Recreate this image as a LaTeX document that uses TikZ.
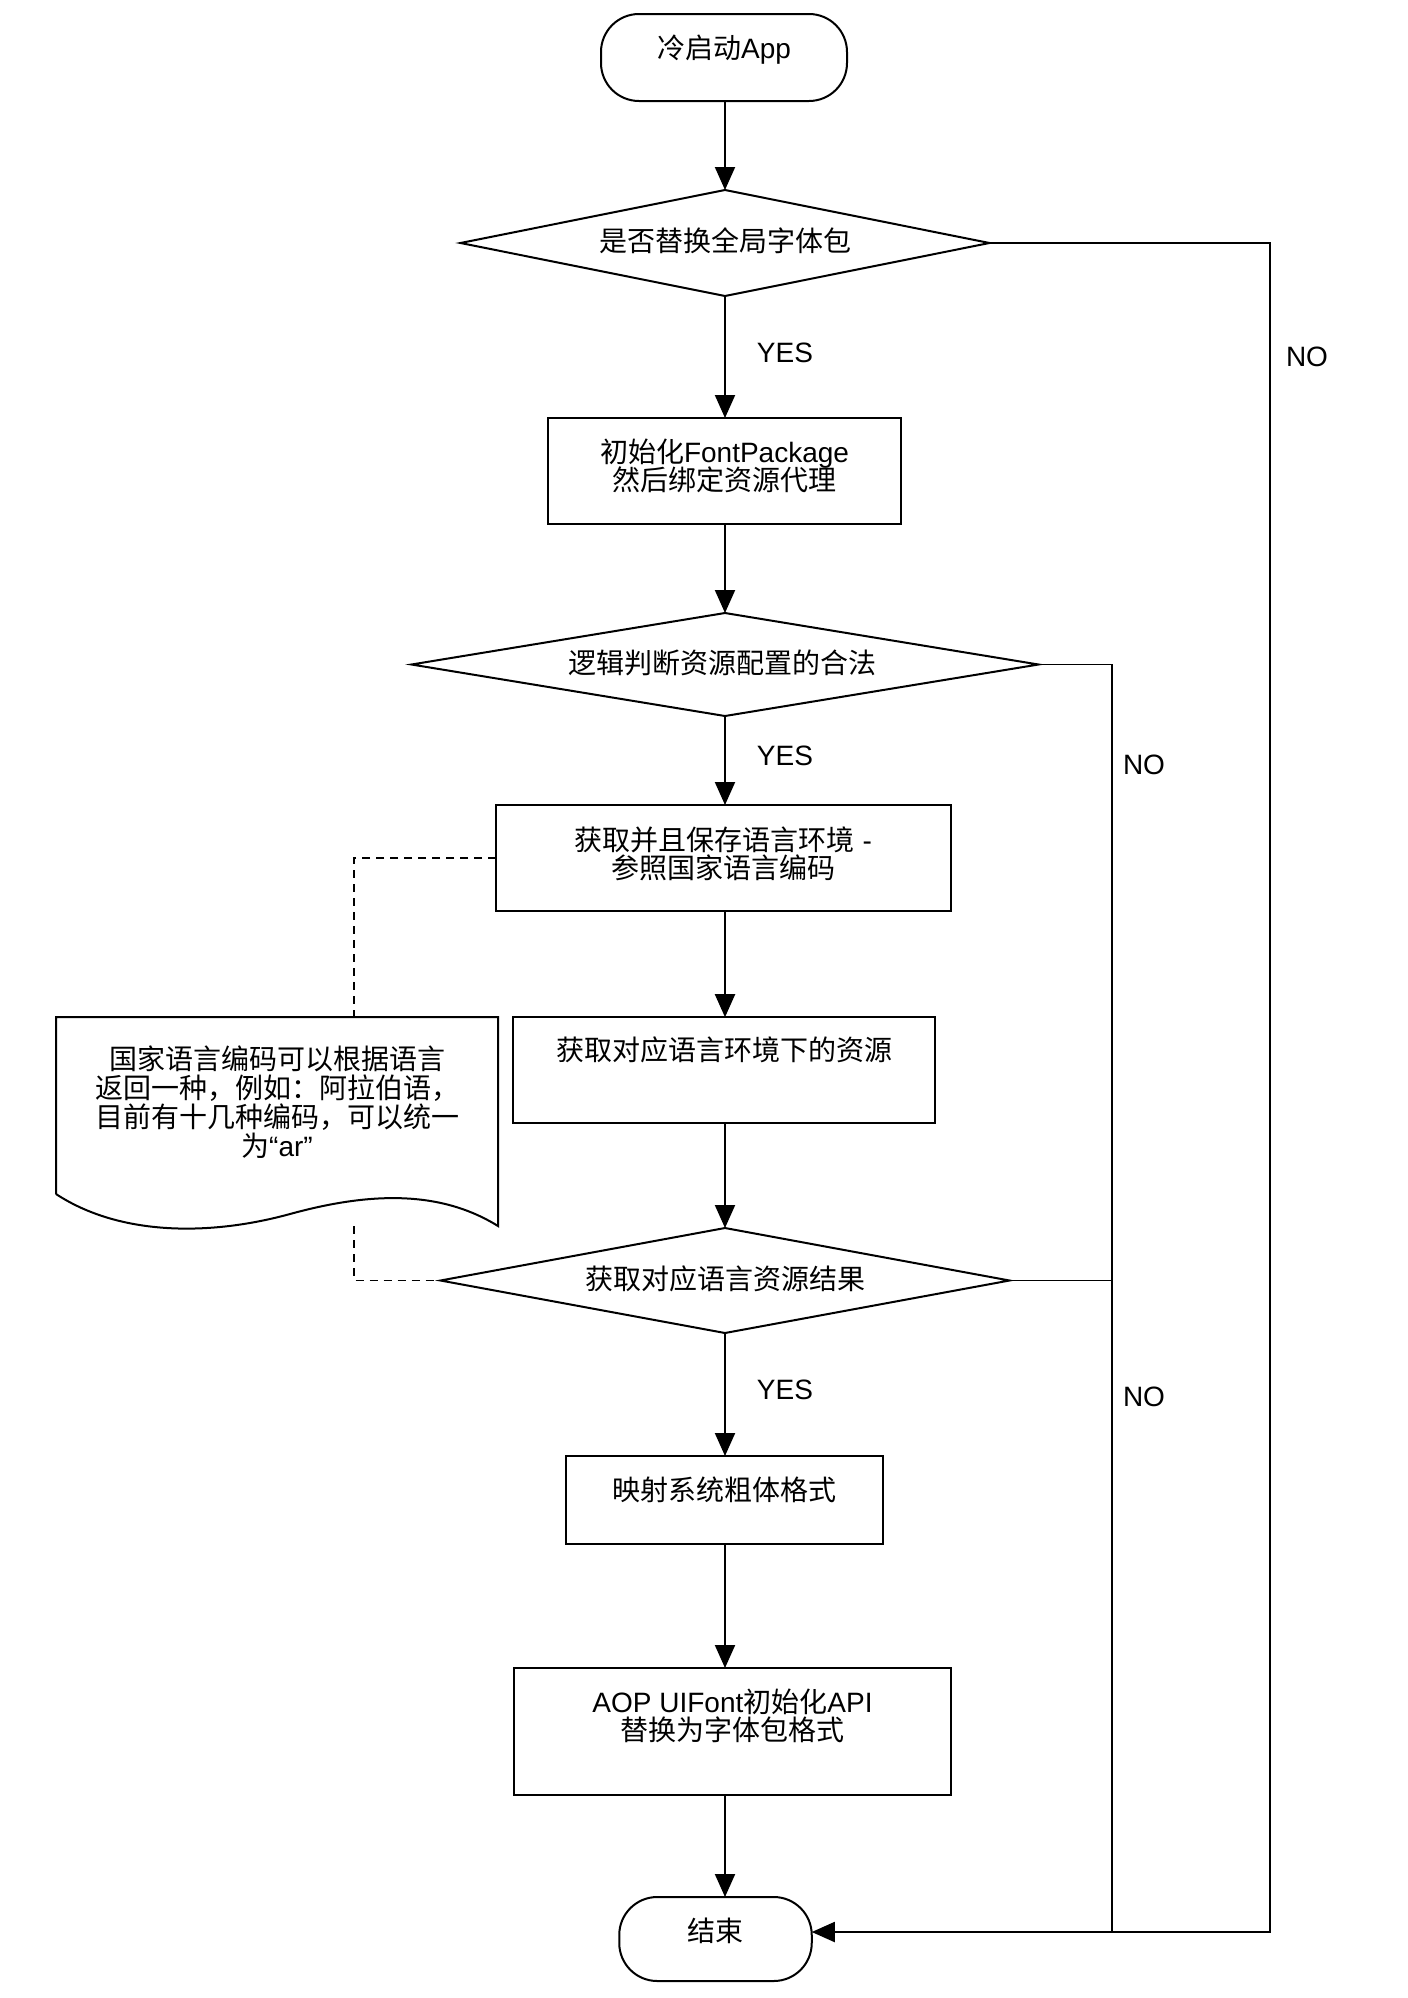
\documentclass[tikz,border=0pt]{standalone}
\usepackage{fontspec}
\setmainfont{Liberation Sans}
\newfontfamily\cjk{Noto Sans CJK SC}
\usetikzlibrary{shapes.geometric,arrows.meta}
\newcommand\zh[1]{{\cjk #1}}
\begin{document}
\lineskiplimit=-20pt
\begin{tikzpicture}[x=0.5pt,y=-0.5pt,
  line width=1pt,
  every node/.style={inner sep=0pt, outer sep=0pt},
  txt/.style={font=\fontsize{14}{14}\selectfont, align=center},
  notetxt/.style={font=\fontsize{14}{14.4}\selectfont, align=center},
  procbox/.style={draw, rectangle, line width=1pt},
  termbox/.style={draw, rectangle, rounded corners=19pt, line width=1pt},
  decbox/.style={draw, diamond, line width=1pt},
  flow/.style={line width=1pt, -{Triangle[length=11.5pt,width=10pt]}},
  nolink/.style={line width=0.8pt},
  dashlink/.style={line width=0.8pt, dash pattern=on 4pt off 3pt},
  lbl/.style={font=\fontsize{14}{14}\selectfont}
]
\useasboundingbox (0,0) rectangle (1408,1998);
\fill[white] (0,0) rectangle (1408,1998);

% column and routing coordinates
\coordinate (col) at (725,0);
\coordinate (xr) at (1270,0);
\coordinate (xm) at (1112,0);
\coordinate (xd) at (354,0);
\coordinate (ybot) at (0,1932);

% start
\node[termbox, minimum width=123pt, minimum height=43.5pt] (start) at (724,57.5) {};
\node[txt] (tstart) at (724,50) {\zh{冷启动}App};

% decision 1
\node[decbox, minimum width=264.5pt, minimum height=53pt] (d1) at (725,243) {};
\node[txt] (td1) at (725,241) {\zh{是否替换全局字体包}};
\node[lbl] (yes1) at (785,353) {YES};

% box 2
\node[procbox, minimum width=176.5pt, minimum height=53pt] (b2) at (724.5,471) {};
\node[txt] (tb2) at (724.5,466) {\zh{初始化}FontPackage\\\zh{然后绑定资源代理}};

% decision 2
\node[decbox, minimum width=313.5pt, minimum height=51.5pt] (d2) at (725,664.5) {};
\node[txt] (td2) at (722.5,662.5) {\zh{逻辑判断资源配置的合法}};
\node[lbl] (yes2) at (785,756) {YES};

% box 3
\node[procbox, minimum width=227.5pt, minimum height=53pt] (b3) at (723.5,858) {};
\node[txt] (tb3) at (723.5,854) {\zh{获取并且保存语言环境} -\\\zh{参照国家语言编码}};

% box 4
\node[procbox, minimum width=210.75pt, minimum height=52.8pt] (b4) at (724,1070) {};
\node[txt] (tb4) at (724,1050) {\zh{获取对应语言环境下的资源}};

% note (document shape)
\draw[line width=1pt] (56,1194) -- (56,1017) -- (498,1017) -- (498,1226)
  .. controls (440,1190) and (370,1192) .. (290,1214)
  .. controls (210,1236) and (120,1236) .. (56,1194);
\coordinate (notetop) at (354,1017);
\coordinate (notebot) at (354,1226);
\node[notetxt] (tnote) at (277,1102) {\zh{国家语言编码可以根据语言}\\\zh{返回一种，例如：阿拉伯语，}\\\zh{目前有十几种编码，可以统一}\\\zh{为}“ar”};

% decision 3
\node[decbox, minimum width=284.5pt, minimum height=52.5pt] (d3) at (725,1280.5) {};
\node[txt] (td3) at (725.5,1279) {\zh{获取对应语言资源结果}};
\node[lbl] (yes3) at (785,1390) {YES};

% box 5
\node[procbox, minimum width=158.5pt, minimum height=44pt] (b5) at (724.5,1500) {};
\node[txt] (tb5) at (724.5,1490) {\zh{映射系统粗体格式}};

% box 6
\node[procbox, minimum width=218.5pt, minimum height=63.5pt] (b6) at (732,1731.5) {};
\node[txt] (tb6) at (732.5,1716) {AOP UIFont\zh{初始化}API\\\zh{替换为字体包格式}};

% end
\node[termbox, minimum width=96.25pt, minimum height=42pt] (end) at (715.5,1939) {};
\node[txt] (tend) at (715,1931) {\zh{结束}};

% NO labels
\node[lbl] (no1) at (1307,357) {NO};
\node[lbl] (no2) at (1144,764.5) {NO};
\node[lbl] (no3) at (1144,1396.5) {NO};

% main flow
\draw[flow] (start.south -| col) -- (d1.north -| col);
\draw[flow] (d1.south -| col) -- (b2.north -| col);
\draw[flow] (b2.south -| col) -- (d2.north -| col);
\draw[flow] (d2.south -| col) -- (b3.north -| col);
\draw[flow] (b3.south -| col) -- (b4.north -| col);
\draw[flow] (b4.south -| col) -- (d3.north -| col);
\draw[flow] (d3.south -| col) -- (b5.north -| col);
\draw[flow] (b5.south -| col) -- (b6.north -| col);
\draw[flow] (b6.south -| col) -- (end.north -| col);

% NO routes
\draw[nolink] (d1.east) -- (d1.east -| xr) -- (xr |- ybot) -- (xm |- ybot);
\draw[nolink] (d2.east) -- (d2.east -| xm) -- (xm |- ybot);
\draw[nolink] (d3.east) -- (d3.east -| xm);
\draw[flow] (xm |- ybot) -- (end.east |- ybot);

% dashed note links
\draw[dashlink] (b3.west) -- (b3.west -| xd) -- (notetop);
\draw[dashlink] (notebot) -- (notebot |- d3.west) -- (d3.west);
\end{tikzpicture}
\end{document}
